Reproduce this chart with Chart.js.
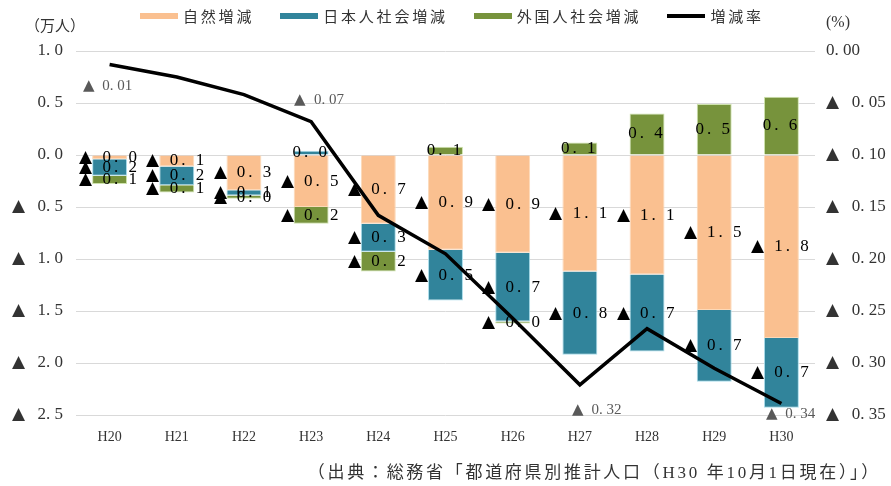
<!DOCTYPE html>
<html>
<head>
<meta charset="utf-8">
<script src="https://cdn.jsdelivr.net/npm/chart.js@4"></script>
<style>
  @font-face { font-family: 'Tri'; src: local('DejaVu Sans'), local('DejaVuSans'); unicode-range: U+25B2; }
  body { margin: 0; background: #fff; }
  #wrap { position: relative; width: 891px; height: 486px; }
  .note { position: absolute; font-family: 'Liberation Serif', 'Noto Sans CJK JP', serif; color: #333; white-space: nowrap; }
  #legend { position: absolute; left: 140px; top: 5px; display: flex; align-items: center;
            font-family: 'Noto Sans CJK JP', sans-serif; font-size: 15px; letter-spacing: 2.8px; color: #333; }
  #legend .item { display: flex; align-items: center; margin-right: 26px; }
  #legend .sw { width: 38px; height: 6px; margin-right: 5px; }
</style>
</head>
<body>
<div id="wrap">
  <canvas id="popChart" width="891" height="486"></canvas>
  <div id="legend"></div>
  <div class="note" style="left:25px; top:14px; font-size:15px;">（万人）</div>
  <div class="note" style="left:826px; top:13px; font-size:16px;">(%)</div>
  <div class="note" style="right:10px; top:458px; font-size:17px; letter-spacing:2.7px;">（出典：総務省「都道府県別推計人口（H30 年10月1日現在）」）</div>
</div>
<script>
// Data (万人, %)
const years = ['H20', 'H21', 'H22', 'H23', 'H24', 'H25', 'H26', 'H27', 'H28', 'H29', 'H30'];
const naturalChange = [-0.04, -0.11, -0.34, -0.50, -0.66, -0.91, -0.94, -1.12, -1.15, -1.49, -1.76];
const japaneseSocial = [-0.16, -0.18, -0.05, 0.04, -0.27, -0.49, -0.66, -0.80, -0.74, -0.69, -0.67];
const foreignSocial = [-0.08, -0.07, -0.03, -0.16, -0.19, 0.08, -0.02, 0.12, 0.40, 0.49, 0.56];
const changeRate = [-0.013, -0.025, -0.042, -0.068, -0.158, -0.195, -0.257, -0.321, -0.267, -0.305, -0.339];
const rateLabelIdx = [0, 3, 7, 10];

const numFont = "'Tri', 'Liberation Serif', 'DejaVu Sans', serif";

// ▲ 表記
function fmt(v, digits, gap) {
    const s = Math.abs(v).toFixed(digits).replace('.', '. ');
    return (v < 0 && Math.abs(v) >= 0.0001) ? '▲' + (gap || ' ') + s : s;
}

// offsets of the rate labels from their points
const rateLabelOffset = { 0: [-2, 22], 3: [8, -22], 7: [17, 25], 10: [9, 11] };

const valueLabels = {
    id: 'valueLabels',
    afterDatasetsDraw(chart) {
        const ctx = chart.ctx;
        ctx.save();
        ctx.font = '17px ' + numFont;
        ctx.letterSpacing = '3px';
        ctx.textAlign = 'center';
        ctx.textBaseline = 'middle';
        ctx.fillStyle = '#000';
        for (let d = 0; d < 3; d++) {
            const meta = chart.getDatasetMeta(d);
            const vals = chart.data.datasets[d].data;
            meta.data.forEach((bar, i) => {
                ctx.fillText(fmt(vals[i], 1), bar.x, (bar.y + bar.base) / 2);
            });
        }
        const lineMeta = chart.getDatasetMeta(3);
        ctx.font = '15px ' + numFont;
        ctx.letterSpacing = '0px';
        ctx.fillStyle = '#595959';
        rateLabelIdx.forEach(i => {
            const pt = lineMeta.data[i];
            const off = rateLabelOffset[i];
            ctx.fillText(fmt(changeRate[i], 2, '  '), pt.x + off[0], pt.y + off[1]);
        });
        ctx.restore();
    }
};

function drawChart() {
    const ctx = document.getElementById('popChart');
    const chart = new Chart(ctx, {
        type: 'bar',
        data: {
            labels: years,
            datasets: [{
                label: '自然増減',
                data: naturalChange,
                backgroundColor: '#FAC090',
                borderColor: '#FCD9B8',
                borderWidth: 1,
                order: 1
            }, {
                label: '日本人社会増減',
                data: japaneseSocial,
                backgroundColor: '#31849B',
                borderColor: '#A9DCEA',
                borderWidth: 1,
                order: 1
            }, {
                label: '外国人社会増減',
                data: foreignSocial,
                backgroundColor: '#77933C',
                borderColor: '#CFE3AE',
                borderWidth: 1,
                order: 1
            }, {
                type: 'line',
                label: '増減率',
                data: changeRate,
                yAxisID: 'y1',
                borderColor: '#000',
                backgroundColor: '#000',
                borderWidth: 3.5,
                pointRadius: 0,
                tension: 0,
                order: 0
            }]
        },
        options: {
            responsive: false,
            animation: false,
            layout: { padding: { top: 51, bottom: 31, left: 0, right: 0 } },
            datasets: {
                bar: { categoryPercentage: 1, barPercentage: 0.52 }
            },
            plugins: {
                legend: { display: false },
                tooltip: { enabled: false }
            },
            scales: {
                x: {
                    stacked: true,
                    grid: { display: false },
                    border: { display: false },
                    ticks: { color: '#333', padding: 6, font: { family: numFont, size: 14 } },
                    afterFit: function(scale) { scale.height = 40; }
                },
                y: {
                    stacked: true,
                    min: -2.5,
                    max: 1.0,
                    position: 'left',
                    border: { display: false },
                    grid: { color: '#D9D9D9', drawTicks: false },
                    ticks: {
                        stepSize: 0.5,
                        padding: 13,
                        color: '#333',
                        font: { family: numFont, size: 17 },
                        callback: function(value) { return fmt(value, 1, '   '); }
                    },
                    afterFit: function(scale) { scale.width = 76; }
                },
                y1: {
                    stacked: false,
                    min: -0.35,
                    max: 0,
                    position: 'right',
                    border: { display: false },
                    grid: { display: false, drawTicks: false },
                    ticks: {
                        stepSize: 0.05,
                        padding: 11,
                        color: '#333',
                        font: { family: numFont, size: 17 },
                        callback: function(value) { return fmt(value, 2, '   '); }
                    },
                    afterFit: function(scale) { scale.width = 76; }
                }
            }
        },
        plugins: [valueLabels]
    });

    // legend built from the datasets
    const legend = document.getElementById('legend');
    chart.data.datasets.forEach(ds => {
        const item = document.createElement('div');
        item.className = 'item';
        const sw = document.createElement('span');
        sw.className = 'sw';
        sw.style.background = ds.backgroundColor;
        if (ds.type === 'line') sw.style.height = '4px';
        const txt = document.createElement('span');
        txt.textContent = ds.label;
        item.appendChild(sw);
        item.appendChild(txt);
        legend.appendChild(item);
    });
}

document.addEventListener('DOMContentLoaded', function() {
    document.fonts.load("16px 'Tri'", '▲').then(drawChart, drawChart);
});
</script>
</body>
</html>
